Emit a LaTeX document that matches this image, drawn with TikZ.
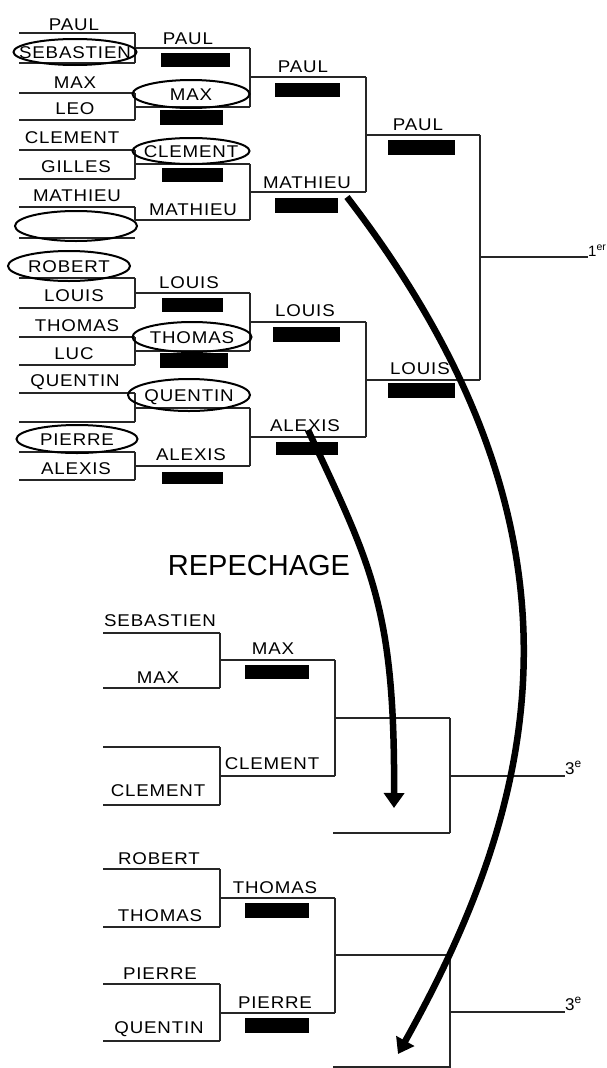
\documentclass[tikz,border=0pt]{standalone}
\usepackage{fontspec}
\setmainfont{Liberation Sans}[FakeStretch=1.1, LetterSpace=5]
\newfontfamily\titlefont{Liberation Sans}
\usetikzlibrary{shapes.geometric, arrows.meta}
\begin{document}
\begin{tikzpicture}[x=1pt,y=-1pt,
  nm/.style={font=\fontsize{17}{17}\selectfont, inner sep=0pt, text height=12.2pt, text depth=0pt},
  rank/.style={font=\titlefont\fontsize{17}{17}\selectfont, inner sep=0pt, anchor=base west},
  ln/.style={line width=1.3pt, draw=black!85},
  barbox/.style={fill=black, draw=none},
  ring/.style={ellipse, draw, line width=2pt, inner sep=0pt},
  bigarrow/.style={line width=6.5pt, -{Triangle[length=15pt,width=20pt]}}
]
\useasboundingbox[fill=white] (0,0) rectangle (606,1068);

% ---------------- main bracket lines ----------------
\foreach \y in {33,63,93,120,150,179,207,238,278,308,337,365,393,422,452,480}
  \draw[ln] (19,\y) -- (135,\y);
\foreach \a/\b in {33/63,93/120,150/179,207/220,278/308,337/365,393/422,452/480}
  \draw[ln] (135,\a) -- (135,\b);
\foreach \y in {48,107,164,220,293,351,408,466}
  \draw[ln] (135,\y) -- (250,\y);
\foreach \a/\b in {48/107,164/220,293/351,408/466}
  \draw[ln] (250,\a) -- (250,\b);
\foreach \y in {77,192,322,437}
  \draw[ln] (250,\y) -- (366,\y);
\foreach \a/\b in {77/192,322/437}
  \draw[ln] (366,\a) -- (366,\b);
\foreach \y in {135,380}
  \draw[ln] (366,\y) -- (480,\y);
\draw[ln] (480,135) -- (480,380);
\draw[ln] (480,257) -- (588,257);

% ---------------- bars ----------------
\foreach \xa/\ya/\xb/\yb in {161/53/230/67, 160/110/223/125, 162/168/223/182,
  162/298/223/312, 160/353/228/368, 162/472/223/484,
  275/83/340/97, 275/198/338/213, 273/327/340/342, 276/442/338/455,
  388/140/455/155, 388/383/455/398,
  245/665/309/679, 245/903/309/918, 245/1018/309/1033}
  \fill[barbox] (\xa,\ya) rectangle (\xb,\yb);

% ---------------- ellipses ----------------
\node[ring, minimum width=123pt, minimum height=26pt] (eseb) at (75,52) {};
\node[ring, minimum width=117pt, minimum height=28pt] (emax) at (191,94) {};
\node[ring, minimum width=117pt, minimum height=26pt] (ecle) at (191,151) {};
\node[ring, minimum width=122pt, minimum height=30pt] (eemp) at (76,226) {};
\node[ring, minimum width=122pt, minimum height=30pt] (erob) at (69,266) {};
\node[ring, minimum width=119pt, minimum height=30pt] (etho) at (192,337) {};
\node[ring, minimum width=122pt, minimum height=32pt] (eque) at (189,395) {};
\node[ring, minimum width=121pt, minimum height=28pt] (epie) at (77,439) {};

% ---------------- first round names ----------------
\node[nm] (r1paul) at (74,24) {PAUL};
\node[nm] (r1seb) at (eseb) {SEBASTIEN};
\node[nm] (r1max) at (75,82) {MAX};
\node[nm] (r1leo) at (75,108) {LEO};
\node[nm] (r1cle) at (72,137) {CLEMENT};
\node[nm] (r1gil) at (76,166) {GILLES};
\node[nm] (r1mat) at (77,195) {MATHIEU};
\node[nm] (r1rob) at (erob) {ROBERT};
\node[nm] (r1lou) at (74,295) {LOUIS};
\node[nm] (r1tho) at (77,325) {THOMAS};
\node[nm] (r1luc) at (74,353) {LUC};
\node[nm] (r1que) at (75,380) {QUENTIN};
\node[nm] (r1pie) at (epie) {PIERRE};
\node[nm] (r1ale) at (76,468) {ALEXIS};

% ---------------- second round ----------------
\node[nm] (r2paul) at (188,38) {PAUL};
\node[nm] (r2max) at (emax) {MAX};
\node[nm] (r2cle) at (ecle) {CLEMENT};
\node[nm] (r2mat) at (193,209) {MATHIEU};
\node[nm] (r2lou) at (189,282) {LOUIS};
\node[nm] (r2tho) at (etho) {THOMAS};
\node[nm] (r2que) at (eque) {QUENTIN};
\node[nm] (r2ale) at (191,454) {ALEXIS};

% ---------------- third / fourth round ----------------
\node[nm] (r3paul) at (303,66) {PAUL};
\node[nm] (r3mat) at (307,182) {MATHIEU};
\node[nm] (r3lou) at (305,310) {LOUIS};
\node[nm] (r3ale) at (305,425) {ALEXIS};
\node[nm] (r4paul) at (418,124) {PAUL};
\node[nm] (r4lou) at (420,368) {LOUIS};
\node[rank, font=\titlefont\fontsize{15}{15}\selectfont] (first) at (588,256) {1\textsuperscript{er}};

% ---------------- repechage ----------------
\node[font=\titlefont\fontsize{29}{29}\selectfont, inner sep=0pt] (rep) at (259,566) {REPECHAGE};

% bracket A
\foreach \y in {633,688,747,805}
  \draw[ln] (103,\y) -- (220,\y);
\draw[ln] (220,633) -- (220,688);
\draw[ln] (220,747) -- (220,805);
\draw[ln] (220,660) -- (335,660);
\draw[ln] (220,776) -- (335,776);
\draw[ln] (335,660) -- (335,776);
\draw[ln] (335,718) -- (450,718);
\draw[ln] (333,833) -- (450,833);
\draw[ln] (450,718) -- (450,833);
\draw[ln] (450,776) -- (565,776);
\node[rank] (third1) at (565,774) {3\textsuperscript{e}};

\node[nm] (aseb) at (160,620) {SEBASTIEN};
\node[nm] (amax) at (158,677) {MAX};
\node[nm] (acle) at (158,790) {CLEMENT};
\node[nm] (amax2) at (273,648) {MAX};
\node[nm] (acle2) at (272,763) {CLEMENT};

% bracket B
\foreach \y in {869,927,984,1041}
  \draw[ln] (103,\y) -- (220,\y);
\draw[ln] (220,869) -- (220,927);
\draw[ln] (220,984) -- (220,1041);
\draw[ln] (220,898) -- (335,898);
\draw[ln] (220,1013) -- (335,1013);
\draw[ln] (335,898) -- (335,1013);
\draw[ln] (335,955) -- (450,955);
\draw[ln] (333,1067) -- (450,1067);
\draw[ln] (450,955) -- (450,1070);
\draw[ln] (450,1012) -- (565,1012);
\node[rank] (third2) at (565,1010) {3\textsuperscript{e}};

\node[nm] (brob) at (159,858) {ROBERT};
\node[nm] (btho) at (160,915) {THOMAS};
\node[nm] (bpie) at (160,973) {PIERRE};
\node[nm] (bque) at (159,1027) {QUENTIN};
\node[nm] (btho2) at (275,887) {THOMAS};
\node[nm] (bpie2) at (275,1002) {PIERRE};

% ---------------- arrows ----------------
\coordinate (a1s) at (308,430);
\coordinate (a1e) at (394,808);
\coordinate (a2s) at (347,197);
\coordinate (a2e) at (398,1054);
\draw[bigarrow] (a1s) .. controls (371,565) and (395,607) .. (a1e);
\draw[bigarrow] (a2s) .. controls (609,538) and (537,805) .. (a2e);
\end{tikzpicture}
\end{document}
